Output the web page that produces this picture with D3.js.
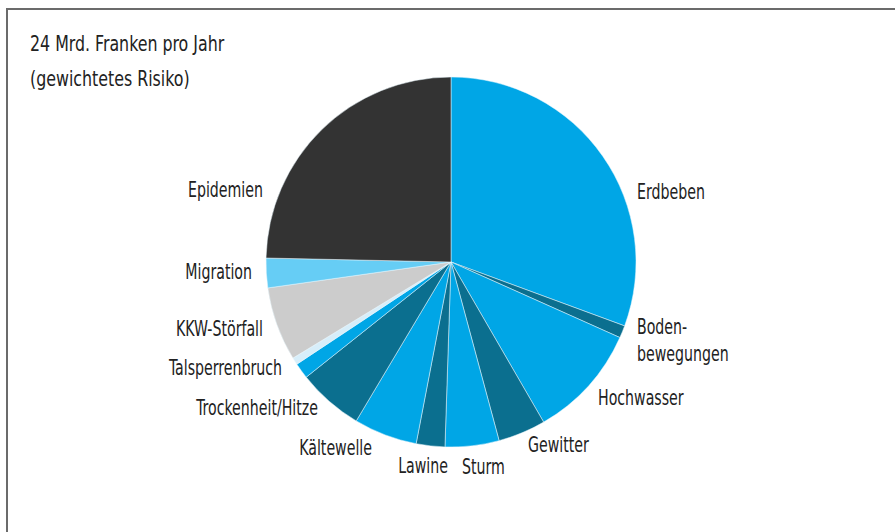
<!DOCTYPE html>
<html>
<head>
<meta charset="utf-8">
<script src="https://cdn.jsdelivr.net/npm/d3@7"></script>
<style>
  html, body { margin: 0; padding: 0; background: #fff; }
  svg text { font-family: "Liberation Sans Narrow", "DejaVu Sans Condensed", "Arial Narrow", sans-serif; fill: #222; }
</style>
</head>
<body>
<svg id="chart" width="895" height="532"></svg>
<script>
// ---- data (Mrd. Franken pro Jahr) ----
const categories = ["Erdbeben", "Boden-\nbewegungen", "Hochwasser", "Gewitter", "Sturm", "Lawine",
  "Kältewelle", "Trockenheit/Hitze", "Talsperrenbruch", "", "KKW-Störfall", "Migration", "Epidemien"];
const values = [7.35, 0.26, 2.39, 1.0, 1.13, 0.6, 1.33, 1.38, 0.33, 0.15, 1.55, 0.62, 5.92];
const titleLines = ["24 Mrd. Franken pro Jahr", "(gewichtetes Risiko)"];

// ---- styling / layout ----
const sliceColors = ["#00a6e6", "#0b6f8f", "#00a6e6", "#0b6f8f", "#00a6e6", "#0b6f8f",
  "#00a6e6", "#0b6f8f", "#00a6e6", "#d7eefa", "#cccccc", "#66cdf5", "#333333"];
// label anchor offsets relative to pie centre: [dx, dy, anchor]
const labelLayout = [[186, -70, "start"], [186, 65, "start"], [147, 136, "start"], [77, 183, "start"],
  [11, 205, "start"], [-3, 204, "end"], [-79, 186, "end"], [-133, 146, "end"], [-169, 106, "end"],
  null, [-188, 67, "end"], [-199, 10, "end"], [-188, -72, "end"]];

const svg = d3.select("#chart");
const cx = 451, cy = 262, R = 185;
const labelScaleX = 0.75, titleScaleX = 0.8;

// frame
svg.append("path").attr("d", "M7,532 V9 H895")
  .attr("fill", "none").attr("stroke", "#6b6b6b").attr("stroke-width", 2);

// title
svg.append("g").selectAll("text").data(titleLines).join("text")
  .attr("transform", (d, i) => `translate(30,${51 + i * 35}) scale(${titleScaleX},1)`)
  .attr("font-size", 22).text(d => d);

const data = categories.map((c, i) => ({ name: c, value: values[i], i }));
const pie = d3.pie().value(d => d.value).sort(null);
const arc = d3.arc().innerRadius(0).outerRadius(R);
const arcs = pie(data);

const g = svg.append("g").attr("transform", `translate(${cx},${cy})`);
g.selectAll("path").data(arcs).join("path")
  .attr("d", arc)
  .attr("fill", d => sliceColors[d.data.i])
  .attr("stroke", "#e8f6fc").attr("stroke-width", 0.5);

const lg = g.append("g");
arcs.forEach(a => {
  const L = labelLayout[a.data.i];
  if (!L || !a.data.name) return;
  const lines = a.data.name.split("\n");
  const t = lg.append("text")
    .attr("transform", `translate(${L[0]},${L[1]}) scale(${labelScaleX},1)`)
    .attr("text-anchor", L[2])
    .attr("font-size", 21);
  lines.forEach((ln, k) => {
    t.append("tspan").attr("x", 0).attr("dy", k === 0 ? "0.35em" : 27).text(ln);
  });
});
</script>
</body>
</html>
